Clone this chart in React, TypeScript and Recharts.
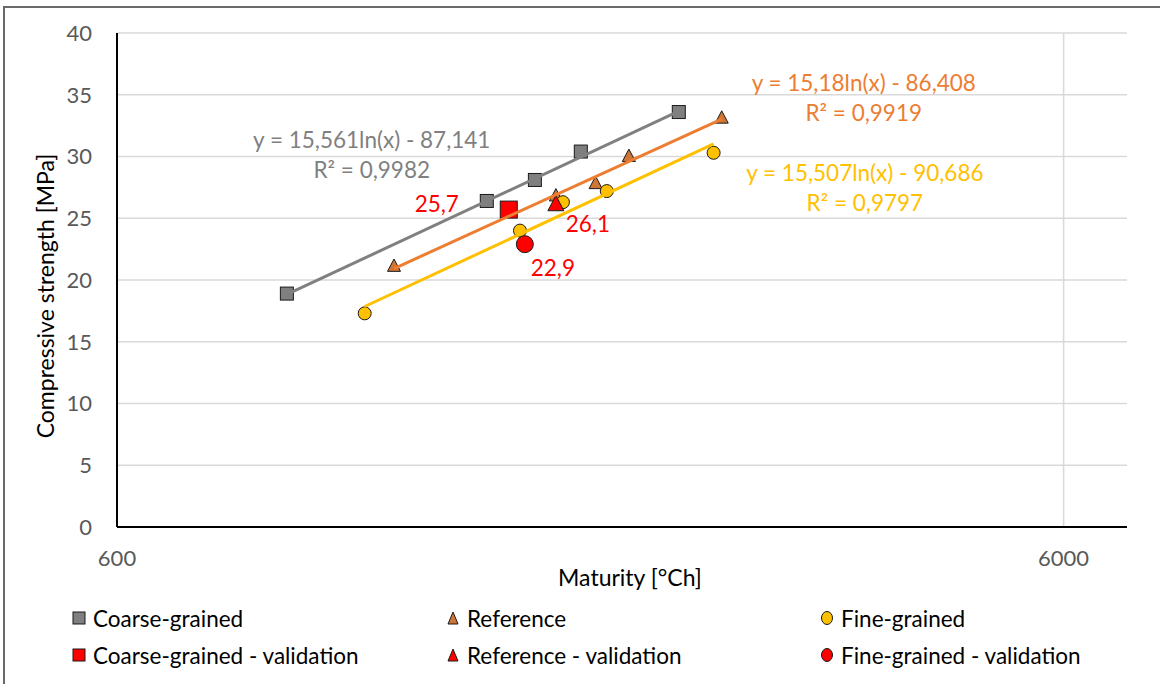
import React from 'react';
import {
  ScatterChart, Scatter, XAxis, YAxis, CartesianGrid, ReferenceDot, Label,
} from 'recharts';

// ---- data ----
const coarseX = [907, 1475, 1658, 1854, 2353];
const coarseY = [18.9, 26.4, 28.1, 30.4, 33.6];
const refX = [1177, 1745, 1922, 2084, 2612];
const refY = [21.1, 26.8, 27.8, 30.0, 33.1];
const fineX = [1096, 1599, 1775, 1975, 2561];
const fineY = [17.3, 24.0, 26.3, 27.2, 30.3];

const coarseValX = [1556];
const coarseValY = [25.7];
const refValX = [1745];
const refValY = [26.1];
const fineValX = [1618];
const fineValY = [22.9];

// trend coefficients y = a ln(x) + b (as printed on the chart)
const coarseTrend = { a: 15.561, b: -87.141, r2: '0,9982', eq: 'y = 15,561ln(x) - 87,141' };
const refTrend = { a: 15.18, b: -86.408, r2: '0,9919', eq: 'y = 15,18ln(x) - 86,408' };
const fineTrend = { a: 15.507, b: -90.686, r2: '0,9797', eq: 'y = 15,507ln(x) - 90,686' };

// equation label anchor points (data coords)
const coarseEqAnchor = { x: 1115, y: 31.4 };
const refEqAnchor = { x: 3690, y: 36.0 };
const fineEqAnchor = { x: 3700, y: 28.7 };

const xTicks = [600, 6000];
const yTicks = [0, 5, 10, 15, 20, 25, 30, 35, 40];

const legendItems = [
  { name: 'Coarse-grained', shape: 'square', color: '#7f7f7f' },
  { name: 'Reference', shape: 'triangle', color: '#d07635' },
  { name: 'Fine-grained', shape: 'circle', color: '#ffc000' },
  { name: 'Coarse-grained - validation', shape: 'square', color: '#ff0000' },
  { name: 'Reference - validation', shape: 'triangle', color: '#ff0000' },
  { name: 'Fine-grained - validation', shape: 'circle', color: '#ff0000' },
];

const zip = (xs: number[], ys: number[]) => xs.map((x, i) => ({ x, y: ys[i] }));
const trendPts = (t: { a: number; b: number }, xs: number[]) => {
  const lo = Math.min(...xs);
  const hi = Math.max(...xs);
  return [lo, hi].map((x) => ({ x, y: t.a * Math.log(x) + t.b }));
};

const FONT = "Lato, 'Open Sans', sans-serif";
const STROKE = '#1a1a1a';
const TXT = 22.5;

const makeShape = (kind: string, fill: string, size: number, label?: { dx: number; dy: number }) =>
  (props: any) => {
    const { cx, cy, payload } = props;
    if (cx == null || cy == null) return <g />;
    const h = size / 2;
    let mark: React.ReactNode;
    if (kind === 'square') {
      mark = <rect x={cx - h} y={cy - h} width={size} height={size} fill={fill} stroke={STROKE} strokeWidth={1} />;
    } else if (kind === 'triangle') {
      const th = size * 0.95;
      mark = (
        <polygon
          points={`${cx},${cy - th * 0.6} ${cx + h},${cy + th * 0.4} ${cx - h},${cy + th * 0.4}`}
          fill={fill}
          stroke={STROKE}
          strokeWidth={1}
        />
      );
    } else {
      mark = <circle cx={cx} cy={cy} r={h} fill={fill} stroke={STROKE} strokeWidth={1} />;
    }
    return (
      <g>
        {mark}
        {label && (
          <text
            x={cx + label.dx}
            y={cy + label.dy}
            textAnchor="middle"
            dominantBaseline="central"
            fill="#ff0000"
            fontSize={TXT}
            fontFamily={FONT}
          >
            {String(payload.y).replace('.', ',')}
          </text>
        )}
      </g>
    );
  };

const noShape = () => <g />;

const eqLabel = (eq: string, r2: string, color: string) => (props: any) => {
  const vb = props.viewBox || {};
  const cx = (vb.x || 0) + (vb.width || 0) / 2;
  const cy = (vb.y || 0) + (vb.height || 0) / 2;
  return (
    <g>
      <text x={cx} y={cy} textAnchor="middle" dominantBaseline="central" fill={color} fontSize={TXT} fontFamily={FONT}>
        {eq}
      </text>
      <text x={cx} y={cy + 30} textAnchor="middle" dominantBaseline="central" fill={color} fontSize={TXT} fontFamily={FONT}>
        {'R² = ' + r2}
      </text>
    </g>
  );
};

const LegendMarker = ({ shape, color }: { shape: string; color: string }) => (
  <svg width={14} height={16} style={{ display: 'block' }}>
    {shape === 'square' && <rect x={1} y={2} width={12} height={12} fill={color} stroke={STROKE} strokeWidth={1} />}
    {shape === 'triangle' && <polygon points="7,2 12,14 2,14" fill={color} stroke={STROKE} strokeWidth={1} />}
    {shape === 'circle' && <ellipse cx={7} cy={8} rx={5.5} ry={6.5} fill={color} stroke={STROKE} strokeWidth={1} />}
  </svg>
);

const legendCols = [72, 446, 820];
const legendRows = [618, 655];

export default function App() {
  return (
    <div
      style={{
        position: 'absolute',
        left: 0,
        top: 0,
        width: 1160,
        height: 684,
        background: '#fff',
        overflow: 'hidden',
        fontFamily: FONT,
      }}
    >
      <div
        style={{
          position: 'absolute',
          left: 3,
          top: 6,
          width: 1300,
          height: 800,
          border: '2px solid #6a6a6a',
          boxSizing: 'border-box',
        }}
      />
      <div style={{ position: 'absolute', left: 0, top: 0 }}>
        <ScatterChart width={1160} height={684} margin={{ top: 33, right: 33, left: 0, bottom: 97 }}>
          <CartesianGrid stroke="#d9d9d9" strokeWidth={1.5} verticalValues={[6000]} horizontalValues={yTicks} />
          <XAxis
            dataKey="x"
            type="number"
            scale="log"
            domain={[600, 7000]}
            ticks={xTicks}
            allowDataOverflow
            height={60}
            tickLine={false}
            tickSize={0}
            tickMargin={23}
            axisLine={{ stroke: '#000', strokeWidth: 2 }}
            tick={{ fill: '#595959', fontSize: 22, fontFamily: FONT }}
          >
            <Label
              content={(p: any) => {
                const vb = p.viewBox || {};
                return (
                  <text
                    x={vb.x + vb.width / 2 + 8}
                    y={577}
                    textAnchor="middle"
                    dominantBaseline="central"
                    fill="#000"
                    fontSize={23}
                    fontFamily={FONT}
                  >
                    Maturity [°Ch]
                  </text>
                );
              }}
            />
          </XAxis>
          <YAxis
            dataKey="y"
            type="number"
            domain={[0, 40]}
            ticks={yTicks}
            width={117}
            tickLine={false}
            tickSize={0}
            tickMargin={25}
            axisLine={{ stroke: '#000', strokeWidth: 2 }}
            tick={{ fill: '#595959', fontSize: 22, fontFamily: FONT }}
          >
            <Label
              content={(p: any) => {
                const vb = p.viewBox || {};
                const cx = 45;
                const cy = vb.y + vb.height / 2 + 16;
                return (
                  <text
                    x={cx}
                    y={cy}
                    transform={`rotate(-90 ${cx} ${cy})`}
                    textAnchor="middle"
                    dominantBaseline="central"
                    fill="#000"
                    fontSize={23}
                    fontFamily={FONT}
                  >
                    Compressive strength [MPa]
                  </text>
                );
              }}
            />
          </YAxis>

          <Scatter data={zip(coarseX, coarseY)} shape={makeShape('square', '#7f7f7f', 13)} isAnimationActive={false} />
          <Scatter data={zip(refX, refY)} shape={makeShape('triangle', '#d07635', 13)} isAnimationActive={false} />
          <Scatter data={zip(fineX, fineY)} shape={makeShape('circle', '#ffc000', 13)} isAnimationActive={false} />

          <Scatter
            data={zip(coarseValX, coarseValY)}
            shape={makeShape('square', '#ff0000', 17, { dx: -72, dy: -6 })}
            isAnimationActive={false}
          />
          <Scatter
            data={zip(refValX, refValY)}
            shape={makeShape('triangle', '#ff0000', 16, { dx: 32, dy: 19 })}
            isAnimationActive={false}
          />
          <Scatter
            data={zip(fineValX, fineValY)}
            shape={makeShape('circle', '#ff0000', 17, { dx: 28, dy: 23 })}
            isAnimationActive={false}
          />

          <Scatter
            data={trendPts(coarseTrend, coarseX)}
            line={{ stroke: '#808080', strokeWidth: 3 }}
            shape={noShape}
            isAnimationActive={false}
          />
          <Scatter
            data={trendPts(refTrend, refX)}
            line={{ stroke: '#ed7d31', strokeWidth: 3 }}
            shape={noShape}
            isAnimationActive={false}
          />
          <Scatter
            data={trendPts(fineTrend, fineX)}
            line={{ stroke: '#ffc000', strokeWidth: 3 }}
            shape={noShape}
            isAnimationActive={false}
          />

          <ReferenceDot
            x={coarseEqAnchor.x}
            y={coarseEqAnchor.y}
            r={1}
            fill="none"
            stroke="none"
            label={eqLabel(coarseTrend.eq, coarseTrend.r2, '#808080')}
          />
          <ReferenceDot
            x={refEqAnchor.x}
            y={refEqAnchor.y}
            r={1}
            fill="none"
            stroke="none"
            label={eqLabel(refTrend.eq, refTrend.r2, '#ed7d31')}
          />
          <ReferenceDot
            x={fineEqAnchor.x}
            y={fineEqAnchor.y}
            r={1}
            fill="none"
            stroke="none"
            label={eqLabel(fineTrend.eq, fineTrend.r2, '#ffc000')}
          />
        </ScatterChart>
      </div>
      {legendItems.map((it, i) => {
        const col = i % 3;
        const row = Math.floor(i / 3);
        return (
          <div
            key={it.name}
            style={{
              position: 'absolute',
              left: legendCols[col],
              top: legendRows[row] - 13,
              height: 26,
              display: 'flex',
              alignItems: 'center',
              gap: 7,
              fontSize: TXT,
              color: '#000',
              whiteSpace: 'nowrap',
            }}
          >
            <LegendMarker shape={it.shape} color={it.color} />
            <span>{it.name}</span>
          </div>
        );
      })}
    </div>
  );
}
